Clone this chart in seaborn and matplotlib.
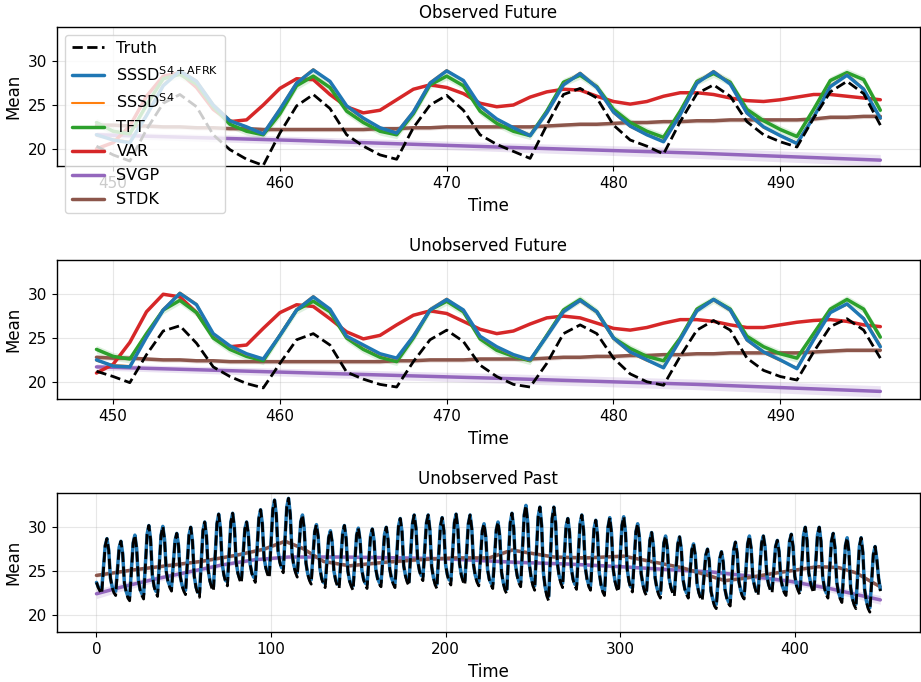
import numpy as np
import matplotlib
matplotlib.use("Agg")
import matplotlib.pyplot as plt
import seaborn as sns

# ---------------------------------------------------------------- data
time_future = np.arange(449, 497)
time_past = np.arange(0, 450)

y_ticks = [20, 25, 30]
y_limits = (18.0, 33.95)

legend_labels = ["Truth", r"SSSD$^{\rm S4+AFRK}$", r"SSSD$^{\rm S4}$",
                 "TFT", "VAR", "SVGP", "STDK"]
panel_titles = ["Observed Future", "Unobserved Future", "Unobserved Past"]

# band half-widths of the probabilistic forecasts
tft_band = 0.45
stdk_band = 0.25

# --- Observed future
obs_truth = [20.3, 19.3, 18.6, 22.2, 25.2, 26.2, 24.8, 21.6,
             19.9, 18.8, 18.1, 21.8, 24.9, 26.2, 24.6, 21.6,
             20.3, 19.3, 18.8, 22.4, 25.0, 26.1, 24.4, 21.6,
             20.5, 19.7, 18.9, 22.7, 26.2, 26.9, 25.8, 22.7,
             21.0, 20.3, 19.4, 23.1, 26.3, 27.3, 26.0, 23.1,
             21.6, 20.8, 20.2, 23.5, 26.5, 27.7, 26.3, 22.7]
obs_sssd_afrk = [21.6, 21.0, 20.7, 23.8, 27.2, 28.9, 27.7, 25.0,
                 23.2, 22.5, 21.7, 24.5, 27.5, 29.0, 27.7, 24.9,
                 23.5, 22.4, 21.8, 24.2, 27.5, 28.9, 27.8, 24.9,
                 23.4, 22.4, 21.5, 24.1, 27.3, 28.6, 27.0, 24.2,
                 22.6, 21.6, 20.8, 23.9, 27.5, 28.8, 27.4, 24.1,
                 22.5, 21.5, 20.6, 23.6, 27.1, 28.4, 26.8, 23.5]
obs_sssd_s4 = [21.5, 21.1, 20.8, 23.9, 27.3, 29.0, 27.8, 25.1,
               23.3, 22.5, 21.8, 24.6, 27.6, 29.1, 27.6, 24.8,
               23.4, 22.4, 21.9, 24.3, 27.6, 29.0, 27.7, 24.8,
               23.3, 22.4, 21.6, 24.2, 27.4, 28.7, 27.1, 24.1,
               22.5, 21.6, 20.9, 24.0, 27.6, 28.9, 27.5, 24.0,
               22.4, 21.5, 20.7, 23.7, 27.2, 28.5, 26.9, 23.4]
obs_tft = [23.0, 22.0, 21.7, 25.0, 28.0, 28.5, 27.4, 24.8,
           22.8, 22.0, 21.6, 24.0, 27.2, 28.3, 27.0, 24.3,
           23.0, 22.0, 21.6, 24.0, 27.3, 28.3, 27.2, 24.3,
           22.9, 22.0, 21.5, 24.3, 27.6, 28.4, 27.1, 24.5,
           23.0, 22.0, 21.3, 24.3, 27.7, 28.6, 27.6, 24.5,
           23.2, 22.2, 21.4, 24.5, 27.8, 28.7, 27.9, 24.4]
obs_var = [20.0, 20.7, 22.6, 26.0, 28.3, 28.7, 27.0, 24.5,
           23.1, 23.3, 25.0, 26.9, 28.0, 27.9, 26.2, 24.8,
           24.1, 24.4, 25.6, 26.8, 27.3, 27.0, 26.3, 25.2,
           24.8, 25.0, 25.9, 26.5, 26.8, 26.7, 26.0, 25.4,
           25.1, 25.4, 26.0, 26.4, 26.4, 26.2, 25.8, 25.5,
           25.4, 25.6, 25.9, 26.2, 26.2, 26.0, 25.8, 25.6]
obs_stdk = [22.7, 22.7, 22.6, 22.6, 22.5, 22.5, 22.4, 22.4,
            22.3, 22.3, 22.2, 22.2, 22.2, 22.2, 22.2, 22.2,
            22.2, 22.3, 22.3, 22.4, 22.4, 22.5, 22.5, 22.5,
            22.5, 22.5, 22.5, 22.6, 22.7, 22.8, 22.8, 22.9,
            23.0, 23.0, 23.1, 23.1, 23.2, 23.2, 23.3, 23.3,
            23.3, 23.3, 23.3, 23.4, 23.6, 23.6, 23.7, 23.7]
obs_svgp_time = [449, 461, 473, 485, 496]
obs_svgp = [21.6, 20.95, 20.2, 19.5, 18.7]
obs_svgp_sd = [0.35, 0.45, 0.5, 0.6, 0.65]

# --- Unobserved future
unobs_truth = [21.2, 20.6, 19.9, 23.1, 25.8, 26.4, 24.4, 21.7,
               20.6, 19.8, 19.3, 22.1, 24.8, 25.5, 24.2, 21.1,
               20.3, 19.7, 19.4, 22.3, 24.8, 25.9, 24.6, 21.9,
               20.6, 19.7, 19.4, 22.1, 25.5, 26.5, 25.5, 22.7,
               20.9, 20.0, 19.6, 22.9, 25.9, 27.0, 25.9, 22.7,
               21.3, 20.6, 20.2, 23.4, 26.3, 27.2, 25.9, 22.7]
unobs_sssd_afrk = [22.5, 21.8, 21.7, 25.1, 28.2, 30.1, 28.8, 25.5,
                   24.1, 23.2, 22.6, 25.3, 28.2, 29.7, 28.3, 25.2,
                   24.2, 23.2, 22.7, 25.2, 28.2, 29.4, 28.2, 25.2,
                   24.0, 23.1, 22.5, 25.2, 28.0, 29.3, 28.0, 25.0,
                   23.4, 22.5, 21.6, 24.8, 28.1, 29.4, 28.2, 24.8,
                   23.4, 22.5, 21.5, 24.8, 27.9, 28.9, 27.2, 24.0]
unobs_sssd_s4 = [22.4, 21.9, 21.8, 25.2, 28.3, 30.2, 28.9, 25.4,
                 24.0, 23.1, 22.6, 25.4, 28.3, 29.8, 28.2, 25.1,
                 24.1, 23.1, 22.6, 25.3, 28.3, 29.5, 28.1, 25.1,
                 23.9, 23.0, 22.4, 25.3, 28.1, 29.2, 27.9, 24.9,
                 23.3, 22.4, 21.7, 24.9, 28.2, 29.3, 28.1, 24.7,
                 23.3, 22.4, 21.6, 24.9, 28.0, 28.8, 27.3, 24.2]
unobs_tft = [23.7, 22.9, 22.6, 25.5, 28.2, 29.3, 27.9, 25.0,
             23.7, 22.9, 22.4, 25.3, 28.2, 29.2, 28.0, 25.0,
             23.7, 22.8, 22.3, 25.0, 28.2, 29.2, 28.0, 24.9,
             23.6, 22.9, 22.4, 25.3, 28.2, 29.4, 28.0, 25.0,
             23.8, 22.9, 22.4, 25.0, 28.3, 29.4, 28.3, 25.2,
             24.0, 23.2, 22.7, 25.5, 28.3, 29.4, 28.3, 25.1]
unobs_var = [21.0, 22.0, 24.5, 28.0, 30.0, 29.7, 27.9, 25.2,
             24.0, 24.2, 26.1, 27.9, 28.8, 28.6, 27.2, 25.7,
             24.9, 25.3, 26.5, 27.6, 28.1, 27.8, 26.9, 26.0,
             25.5, 25.8, 26.6, 27.3, 27.5, 27.3, 26.7, 26.1,
             25.9, 26.2, 26.7, 27.1, 27.1, 26.9, 26.5, 26.2,
             26.2, 26.5, 26.8, 27.0, 27.1, 26.9, 26.5, 26.3]
unobs_stdk = [22.8, 22.7, 22.7, 22.6, 22.5, 22.5, 22.4, 22.4,
              22.3, 22.3, 22.3, 22.3, 22.3, 22.3, 22.3, 22.3,
              22.3, 22.3, 22.4, 22.4, 22.5, 22.5, 22.5, 22.6,
              22.6, 22.6, 22.6, 22.7, 22.8, 22.8, 22.9, 22.9,
              23.0, 23.0, 23.1, 23.1, 23.2, 23.2, 23.3, 23.3,
              23.3, 23.3, 23.3, 23.4, 23.5, 23.6, 23.6, 23.6]
unobs_svgp_time = [449, 461, 473, 485, 496]
unobs_svgp = [21.7, 21.05, 20.4, 19.7, 18.9]
unobs_svgp_sd = [0.35, 0.45, 0.55, 0.6, 0.65]

# --- Unobserved past (imputation window)
past_truth = [
    23.7, 23.1, 22.7, 22.4, 25.2, 27.9, 28.7, 27.4,
    24.2, 23.1, 22.5, 22.2, 25.0, 27.7, 28.4, 27.0,
    23.6, 22.6, 21.9, 21.6, 25.0, 28.2, 29.1, 27.6,
    24.0, 22.8, 22.2, 21.8, 25.6, 29.2, 30.2, 28.6,
    24.5, 23.2, 22.5, 22.1, 25.7, 29.1, 30.1, 28.6,
    24.9, 23.7, 23.1, 22.7, 25.7, 28.5, 29.3, 27.9,
    24.4, 23.3, 22.7, 22.3, 25.8, 29.1, 30.0, 28.4,
    24.4, 23.1, 22.4, 22.0, 25.9, 29.6, 30.6, 29.0,
    25.1, 23.8, 23.1, 22.7, 26.7, 30.4, 31.5, 29.9,
    25.8, 24.5, 23.7, 23.3, 27.0, 30.6, 31.6, 30.0,
    26.0, 24.7, 24.0, 23.6, 26.8, 29.8, 30.6, 29.2,
    25.8, 24.7, 24.1, 23.7, 27.4, 31.0, 32.0, 30.4,
    26.5, 25.3, 24.6, 24.2, 28.2, 32.0, 33.1, 31.4,
    27.3, 26.0, 25.2, 24.8, 28.6, 32.3, 33.3, 31.5,
    27.0, 25.6, 24.8, 24.3, 27.5, 30.6, 31.4, 29.8,
    25.9, 24.6, 23.9, 23.5, 26.6, 29.5, 30.3, 28.9,
    25.3, 24.1, 23.5, 23.1, 26.0, 28.8, 29.6, 28.3,
    25.0, 23.9, 23.3, 23.0, 26.2, 29.3, 30.2, 28.7,
    25.0, 23.8, 23.2, 22.8, 26.0, 29.1, 29.9, 28.5,
    25.1, 24.0, 23.4, 23.0, 26.1, 29.0, 29.8, 28.5,
    25.2, 24.1, 23.5, 23.2, 26.3, 29.2, 30.0, 28.6,
    25.2, 24.1, 23.5, 23.1, 26.7, 30.1, 31.0, 29.5,
    25.6, 24.4, 23.7, 23.3, 27.0, 30.4, 31.4, 29.9,
    26.2, 25.0, 24.3, 23.9, 27.3, 30.5, 31.4, 29.7,
    25.5, 24.2, 23.4, 23.0, 26.7, 30.1, 31.1, 29.6,
    25.7, 24.5, 23.8, 23.4, 27.0, 30.5, 31.5, 29.9,
    25.8, 24.5, 23.8, 23.4, 27.0, 30.4, 31.4, 29.8,
    25.7, 24.4, 23.7, 23.3, 26.5, 29.6, 30.4, 28.9,
    25.2, 24.0, 23.4, 23.0, 26.4, 29.7, 30.6, 29.0,
    24.9, 23.6, 22.8, 22.4, 26.5, 30.5, 31.6, 29.9,
    25.7, 24.4, 23.6, 23.2, 27.4, 31.4, 32.5, 30.6,
    25.7, 24.2, 23.3, 22.8, 27.1, 31.2, 32.3, 30.2,
    24.8, 23.1, 22.1, 21.6, 26.4, 31.0, 32.3, 30.5,
    25.9, 24.4, 23.6, 23.1, 26.7, 30.1, 31.0, 29.4,
    25.3, 24.0, 23.3, 22.9, 26.7, 30.4, 31.4, 29.7,
    25.4, 24.0, 23.2, 22.8, 26.4, 29.8, 30.8, 29.1,
    24.8, 23.4, 22.6, 22.2, 26.2, 30.0, 31.1, 29.4,
    25.2, 23.8, 23.0, 22.6, 26.5, 30.2, 31.2, 29.5,
    25.2, 23.8, 23.0, 22.6, 26.1, 29.5, 30.4, 28.8,
    24.7, 23.4, 22.6, 22.2, 25.4, 28.5, 29.4, 27.9,
    24.2, 23.0, 22.3, 21.9, 25.1, 28.2, 29.0, 27.6,
    24.2, 23.1, 22.5, 22.1, 25.2, 28.1, 28.9, 27.5,
    24.0, 22.9, 22.3, 21.9, 24.7, 27.4, 28.1, 26.8,
    23.6, 22.5, 21.9, 21.6, 24.3, 26.8, 27.5, 26.1,
    22.7, 21.7, 21.0, 20.7, 23.6, 26.4, 27.2, 26.0,
    22.9, 21.9, 21.3, 21.0, 24.3, 27.4, 28.3, 27.0,
    23.8, 22.7, 22.1, 21.8, 25.0, 28.1, 29.0, 27.6,
    24.2, 23.2, 22.5, 22.2, 25.3, 28.2, 29.0, 27.7,
    24.5, 23.4, 22.8, 22.5, 25.2, 27.8, 28.5, 27.2,
    24.1, 23.1, 22.5, 22.2, 25.4, 28.4, 29.2, 27.8,
    24.4, 23.3, 22.7, 22.3, 25.8, 29.1, 30.0, 28.5,
    24.8, 23.6, 22.9, 22.5, 25.9, 29.1, 30.0, 28.4,
    24.3, 23.0, 22.3, 21.9, 25.2, 28.4, 29.3, 27.7,
    23.8, 22.5, 21.8, 21.4, 24.7, 27.9, 28.8, 27.2,
    23.1, 21.8, 21.1, 20.7, 24.4, 27.8, 28.8, 27.1,
    22.9, 21.5, 20.7, 20.3, 23.7, 26.9, 27.8, 26.3,
    24.2, 22.7]
past_sssd_afrk = [
    23.7, 23.2, 22.9, 22.9, 25.4, 27.9, 28.7, 27.4,
    24.2, 23.2, 22.7, 22.7, 25.2, 27.7, 28.4, 27.0,
    23.6, 22.7, 22.1, 22.1, 25.2, 28.2, 29.1, 27.6,
    24.0, 22.9, 22.4, 22.3, 25.8, 29.2, 30.2, 28.6,
    24.5, 23.3, 22.7, 22.6, 25.9, 29.1, 30.1, 28.6,
    24.9, 23.8, 23.3, 23.2, 25.9, 28.5, 29.3, 27.9,
    24.4, 23.4, 22.9, 22.8, 26.0, 29.1, 30.0, 28.4,
    24.4, 23.2, 22.6, 22.5, 26.1, 29.6, 30.6, 29.0,
    25.1, 23.9, 23.3, 23.2, 26.9, 30.4, 31.5, 29.9,
    25.8, 24.6, 23.9, 23.8, 27.2, 30.6, 31.6, 30.0,
    26.0, 24.8, 24.2, 24.1, 27.0, 29.8, 30.6, 29.2,
    25.8, 24.8, 24.3, 24.2, 27.6, 31.0, 32.0, 30.4,
    26.5, 25.4, 24.8, 24.7, 28.4, 32.0, 33.1, 31.4,
    27.3, 26.1, 25.4, 25.3, 28.8, 32.3, 33.3, 31.5,
    27.0, 25.7, 25.0, 24.8, 27.7, 30.6, 31.4, 29.8,
    25.9, 24.7, 24.1, 24.0, 26.8, 29.5, 30.3, 28.9,
    25.3, 24.2, 23.7, 23.6, 26.2, 28.8, 29.6, 28.3,
    25.0, 24.0, 23.5, 23.5, 26.4, 29.3, 30.2, 28.7,
    25.0, 23.9, 23.4, 23.3, 26.2, 29.1, 29.9, 28.5,
    25.1, 24.1, 23.6, 23.5, 26.3, 29.0, 29.8, 28.5,
    25.2, 24.2, 23.7, 23.7, 26.5, 29.2, 30.0, 28.6,
    25.2, 24.2, 23.7, 23.6, 26.9, 30.1, 31.0, 29.5,
    25.6, 24.5, 23.9, 23.8, 27.2, 30.4, 31.4, 29.9,
    26.2, 25.1, 24.5, 24.4, 27.5, 30.5, 31.4, 29.7,
    25.5, 24.3, 23.6, 23.5, 26.9, 30.1, 31.1, 29.6,
    25.7, 24.6, 24.0, 23.9, 27.2, 30.5, 31.5, 29.9,
    25.8, 24.6, 24.0, 23.9, 27.2, 30.4, 31.4, 29.8,
    25.7, 24.5, 23.9, 23.8, 26.7, 29.6, 30.4, 28.9,
    25.2, 24.1, 23.6, 23.5, 26.6, 29.7, 30.6, 29.0,
    24.9, 23.7, 23.0, 22.9, 26.7, 30.5, 31.6, 29.9,
    25.7, 24.5, 23.8, 23.7, 27.6, 31.4, 32.5, 30.6,
    25.7, 24.3, 23.5, 23.3, 27.3, 31.2, 32.3, 30.2,
    24.8, 23.2, 22.3, 22.1, 26.6, 31.0, 32.3, 30.5,
    25.9, 24.5, 23.8, 23.6, 26.9, 30.1, 31.0, 29.4,
    25.3, 24.1, 23.5, 23.4, 26.9, 30.4, 31.4, 29.7,
    25.4, 24.1, 23.4, 23.3, 26.6, 29.8, 30.8, 29.1,
    24.8, 23.5, 22.8, 22.7, 26.4, 30.0, 31.1, 29.4,
    25.2, 23.9, 23.2, 23.1, 26.7, 30.2, 31.2, 29.5,
    25.2, 23.9, 23.2, 23.1, 26.3, 29.5, 30.4, 28.8,
    24.7, 23.5, 22.8, 22.7, 25.6, 28.5, 29.4, 27.9,
    24.2, 23.1, 22.5, 22.4, 25.3, 28.2, 29.0, 27.6,
    24.2, 23.2, 22.7, 22.6, 25.4, 28.1, 28.9, 27.5,
    24.0, 23.0, 22.5, 22.4, 24.9, 27.4, 28.1, 26.8,
    23.6, 22.6, 22.1, 22.1, 24.5, 26.8, 27.5, 26.1,
    22.7, 21.8, 21.2, 21.2, 23.8, 26.4, 27.2, 26.0,
    22.9, 22.0, 21.5, 21.5, 24.5, 27.4, 28.3, 27.0,
    23.8, 22.8, 22.3, 22.3, 25.2, 28.1, 29.0, 27.6,
    24.2, 23.3, 22.7, 22.7, 25.5, 28.2, 29.0, 27.7,
    24.5, 23.5, 23.0, 23.0, 25.4, 27.8, 28.5, 27.2,
    24.1, 23.2, 22.7, 22.7, 25.6, 28.4, 29.2, 27.8,
    24.4, 23.4, 22.9, 22.8, 26.0, 29.1, 30.0, 28.5,
    24.8, 23.7, 23.1, 23.0, 26.1, 29.1, 30.0, 28.4,
    24.3, 23.1, 22.5, 22.4, 25.4, 28.4, 29.3, 27.7,
    23.8, 22.6, 22.0, 21.9, 24.9, 27.9, 28.8, 27.2,
    23.1, 21.9, 21.3, 21.2, 24.6, 27.8, 28.8, 27.1,
    22.9, 21.6, 20.9, 20.8, 23.9, 26.9, 27.8, 26.3,
    24.2, 22.9]
past_stdk_time = [0, 20, 40, 60, 80, 96, 108, 118, 130, 145, 165, 185, 205,
                  225, 238, 250, 262, 280, 302, 315, 335, 352, 360, 372, 390,
                  400, 413, 425, 435, 441, 449]
past_stdk = [24.5, 25.1, 25.6, 26.1, 26.8, 27.5, 28.4, 27.6, 26.1, 25.6, 26.0,
             26.3, 26.5, 26.5, 27.4, 27.0, 26.6, 26.5, 26.7, 26.2, 25.4, 24.4,
             23.9, 24.2, 24.8, 25.1, 25.5, 25.4, 24.8, 24.1, 23.2]
past_svgp_time = [0, 15, 34, 53, 72, 91, 110, 140, 175, 200, 240, 270, 300,
                  333, 352, 375, 398, 420, 449]
past_svgp = [22.4, 23.2, 24.1, 24.9, 25.7, 26.3, 26.6, 26.6, 26.5, 26.4, 26.0,
             25.8, 25.5, 25.1, 24.9, 24.4, 23.8, 23.0, 21.7]
past_svgp_sd = [0.55, 0.45, 0.35, 0.3, 0.25, 0.2, 0.2, 0.2, 0.2, 0.2, 0.2,
                0.2, 0.2, 0.25, 0.25, 0.3, 0.35, 0.4, 0.5]

# ---------------------------------------------------------------- style
sns.set_theme(context="notebook", style="ticks", rc={
    "axes.edgecolor": "black",
    "axes.linewidth": 1.0,
    "axes.labelcolor": "black",
    "text.color": "black",
    "xtick.color": "black",
    "ytick.color": "black",
    "xtick.major.size": 3.5,
    "ytick.major.size": 3.5,
    "xtick.major.width": 0.8,
    "ytick.major.width": 0.8,
    "legend.fontsize": 11.5,
    "axes.grid": True,
    "grid.color": "#b0b0b0",
    "grid.alpha": 0.3,
    "grid.linewidth": 0.8,
})

C_TRUTH = "black"
C_AFRK = "#1f77b4"
C_S4 = "#ff7f0e"
C_TFT = "#2ca02c"
C_VAR = "#d62728"
C_SVGP = "#9467bd"
C_STDK = "#8c564b"

fig, axes = plt.subplots(3, 1, figsize=(9.21, 6.82), dpi=100)
fig.subplots_adjust(left=0.0622, right=0.9984, top=0.9609, bottom=0.0729,
                    hspace=0.669)


def add_line(ax, x, y, **kw):
    sns.lineplot(x=x, y=y, ax=ax, **kw)
    return ax.lines[-1]


def draw_forecast(ax, truth, afrk, s4, tft, var, svgp_t, svgp, svgp_sd, stdk):
    tft = np.asarray(tft)
    stdk = np.asarray(stdk)
    svgp = np.asarray(svgp)
    svgp_sd = np.asarray(svgp_sd)
    ax.fill_between(time_future, tft - tft_band, tft + tft_band,
                    color=C_TFT, alpha=0.15, lw=0, zorder=1)
    ax.fill_between(svgp_t, svgp - svgp_sd, svgp + svgp_sd,
                    color=C_SVGP, alpha=0.18, lw=0, zorder=1)
    ax.fill_between(time_future, stdk - stdk_band, stdk + stdk_band,
                    color=C_STDK, alpha=0.2, lw=0, zorder=1)
    h = {}
    h["svgp"] = add_line(ax, svgp_t, svgp, color=C_SVGP, lw=2.5, zorder=2)
    h["stdk"] = add_line(ax, time_future, stdk, color=C_STDK, lw=2.5, zorder=2)
    h["var"] = add_line(ax, time_future, var, color=C_VAR, lw=2.5, zorder=3)
    h["tft"] = add_line(ax, time_future, tft, color=C_TFT, lw=2.5, zorder=4)
    h["s4"] = add_line(ax, time_future, s4, color=C_S4, lw=1.5, zorder=5)
    h["afrk"] = add_line(ax, time_future, afrk, color=C_AFRK, lw=2.5, zorder=6)
    h["truth"] = add_line(ax, time_future, truth, color=C_TRUTH, lw=2,
                          linestyle="--", zorder=7)
    return h


h_top = draw_forecast(axes[0], obs_truth, obs_sssd_afrk, obs_sssd_s4, obs_tft,
                      obs_var, obs_svgp_time, obs_svgp, obs_svgp_sd, obs_stdk)
draw_forecast(axes[1], unobs_truth, unobs_sssd_afrk, unobs_sssd_s4, unobs_tft,
              unobs_var, unobs_svgp_time, unobs_svgp, unobs_svgp_sd, unobs_stdk)

# imputation window
ax = axes[2]
psvgp = np.asarray(past_svgp)
psd = np.asarray(past_svgp_sd)
pstdk = np.asarray(past_stdk)
ax.fill_between(past_svgp_time, psvgp - psd, psvgp + psd,
                color=C_SVGP, alpha=0.18, lw=0, zorder=1)
ax.fill_between(past_stdk_time, pstdk - 0.2, pstdk + 0.2,
                color=C_STDK, alpha=0.2, lw=0, zorder=1)
add_line(ax, past_svgp_time, past_svgp, color=C_SVGP, lw=2.5, zorder=2)
add_line(ax, past_stdk_time, past_stdk, color=C_STDK, lw=2.5, zorder=2)
add_line(ax, time_past, past_sssd_afrk, color=C_AFRK, lw=2.5, zorder=6)
add_line(ax, time_past, past_truth, color=C_TRUTH, lw=2, linestyle="--",
         zorder=7)

for ax, title in zip(axes, panel_titles):
    ax.set_title(title)
    ax.set_xlabel("Time")
    ax.set_ylabel("Mean")
    ax.set_ylim(*y_limits)
    ax.set_yticks(y_ticks)
    ax.grid(True, alpha=0.3)

order = ["truth", "afrk", "s4", "tft", "var", "svgp", "stdk"]
leg = axes[0].legend([h_top[k] for k in order], legend_labels,
                     loc="upper left", framealpha=0.8, labelspacing=0.56)
leg.set_zorder(20)

fig.savefig("out.png", dpi=100)
